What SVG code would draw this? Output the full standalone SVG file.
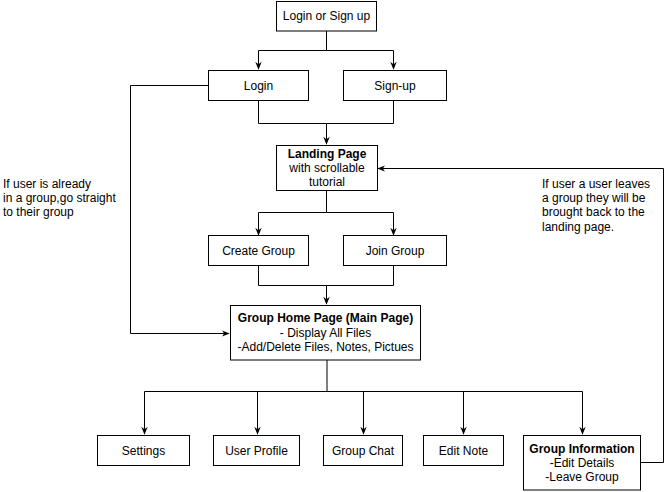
<svg xmlns="http://www.w3.org/2000/svg" width="670" height="492" viewBox="0 0 670 492">
<style>
.box{fill:#fff;stroke:#000;stroke-width:1}
.t{font-family:"Liberation Sans",Arial,sans-serif;font-size:12px;fill:#000;text-anchor:middle;dominant-baseline:central}
.b{font-weight:bold}
.n{font-family:"Liberation Sans",Arial,sans-serif;font-size:12px;fill:#000}
.c{fill:none;stroke:#000;stroke-width:1}
</style>
<defs>
<marker id="ar" viewBox="0 0 10 10" refX="9" refY="5" markerWidth="8" markerHeight="8" markerUnits="userSpaceOnUse" orient="auto">
<path d="M0,1 L10,5 L0,9 L3,5 Z" fill="#000"/>
</marker>
</defs>
<rect width="670" height="492" fill="#fff"/>
<g id="connectors">
<path class="c" d="M326.5,31 V50.5 H258.5 V69" marker-end="url(#ar)"/>
<path class="c" d="M326.5,50.5 H393.5 V69" marker-end="url(#ar)"/>
<path class="c" d="M258.5,101 V123.5 H326.5 V144" marker-end="url(#ar)"/>
<path class="c" d="M393.5,101 V123.5 H326.5"/>
<path class="c" d="M326.5,190 V212.5 H258.5 V235" marker-end="url(#ar)"/>
<path class="c" d="M326.5,212.5 H393.5 V235" marker-end="url(#ar)"/>
<path class="c" d="M258.5,265 V285.5 H326.5 V304" marker-end="url(#ar)"/>
<path class="c" d="M393.5,265 V285.5 H326.5"/>
<path class="c" d="M208,85.5 H130.5 V333.5 H229" marker-end="url(#ar)"/>
<path class="c" d="M327,360 V391.5 H144.5 V434" marker-end="url(#ar)"/>
<path class="c" d="M257.5,391.5 V434" marker-end="url(#ar)"/>
<path class="c" d="M327,391.5 H582.5 V434" marker-end="url(#ar)"/>
<path class="c" d="M363.5,391.5 V434" marker-end="url(#ar)"/>
<path class="c" d="M463.5,391.5 V434" marker-end="url(#ar)"/>
<path class="c" d="M640,462.5 H663.5 V168.5 H378" marker-end="url(#ar)"/>
</g>
<g id="login-or-signup"><rect class="box" x="276.5" y="1.5" width="100" height="29.5"/><text class="t" x="326.5" y="16">Login or Sign up</text></g>
<g id="login"><rect class="box" x="208.5" y="70.5" width="100" height="30"/><text class="t" x="258.5" y="85.5">Login</text></g>
<g id="signup"><rect class="box" x="343.5" y="70.5" width="103" height="30"/><text class="t" x="395" y="85.5">Sign-up</text></g>
<g id="landing"><rect class="box" x="276.5" y="145.5" width="101" height="45"/>
<text class="t b" x="327" y="154">Landing Page</text><text class="t" x="327" y="168">with scrollable</text><text class="t" x="327" y="182">tutorial</text></g>
<g id="create-group"><rect class="box" x="208.5" y="235.5" width="100" height="30"/><text class="t" x="258.5" y="250.5">Create Group</text></g>
<g id="join-group"><rect class="box" x="343.5" y="235.5" width="103" height="30"/><text class="t" x="395" y="250.5">Join Group</text></g>
<g id="group-home"><rect class="box" x="230.5" y="305.5" width="190" height="54.5"/>
<text class="t b" x="325.5" y="318">Group Home Page (Main Page)</text><text class="t" x="325.5" y="333">- Display All Files</text><text class="t" x="325.5" y="347">-Add/Delete Files, Notes, Pictues</text></g>
<g id="settings"><rect class="box" x="97.5" y="435.5" width="92" height="30"/><text class="t" x="143.5" y="450.5">Settings</text></g>
<g id="user-profile"><rect class="box" x="213.5" y="435.5" width="86" height="30"/><text class="t" x="256.5" y="450.5">User Profile</text></g>
<g id="group-chat"><rect class="box" x="323.5" y="435.5" width="79" height="30"/><text class="t" x="363" y="450.5">Group Chat</text></g>
<g id="edit-note"><rect class="box" x="423.5" y="435.5" width="80" height="30"/><text class="t" x="463.5" y="450.5">Edit Note</text></g>
<g id="group-info"><rect class="box" x="523.5" y="435.5" width="117" height="54.5"/>
<text class="t b" x="582" y="449">Group Information</text><text class="t" x="582" y="463">-Edit Details</text><text class="t" x="582" y="477">-Leave Group</text></g>
<g id="note-left">
<text class="n" x="3" y="188">If user is already</text>
<text class="n" x="3" y="202">in a group,go straight</text>
<text class="n" x="3" y="216">to their group</text>
</g>
<g id="note-right">
<text class="n" x="542" y="188">If user a user leaves</text>
<text class="n" x="542" y="202">a group they will be</text>
<text class="n" x="542" y="216">brought back to the</text>
<text class="n" x="542" y="231">landing page.</text>
</g>
</svg>
